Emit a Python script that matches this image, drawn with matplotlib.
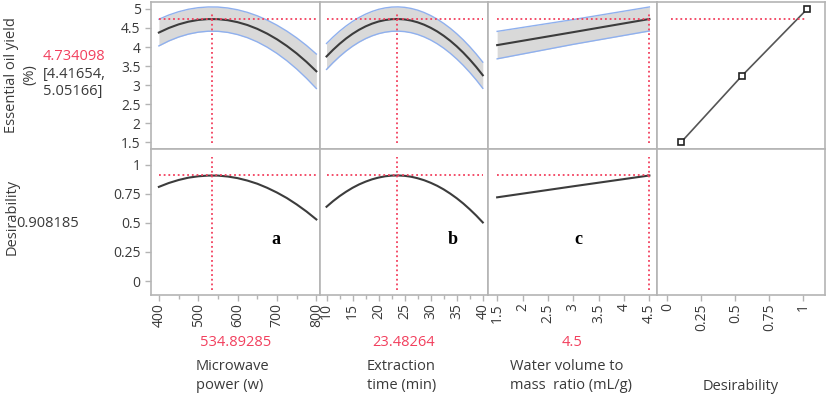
import matplotlib.pyplot as plt

plt.rcParams['font.family'] = ['Open Sans', 'DejaVu Sans']

power = [400, 425, 450, 475, 500, 525, 550, 575, 600, 625, 650, 675, 700, 725, 750, 775, 800]
yield_power = [4.379, 4.498, 4.593, 4.664, 4.710, 4.732, 4.730, 4.703, 4.651, 4.576, 4.476,
               4.351, 4.202, 4.029, 3.832, 3.610, 3.364]
upper_power = [4.729, 4.838, 4.925, 4.990, 5.031, 5.050, 5.048, 5.023, 4.976, 4.908, 4.818,
               4.706, 4.572, 4.417, 4.240, 4.040, 3.816]
lower_power = [4.029, 4.158, 4.261, 4.338, 4.389, 4.414, 4.412, 4.383, 4.326, 4.244, 4.134,
               3.996, 3.832, 3.641, 3.424, 3.180, 2.912]
desir_power = [0.810, 0.843, 0.869, 0.889, 0.901, 0.907, 0.907, 0.899, 0.885, 0.864, 0.837,
               0.802, 0.761, 0.714, 0.659, 0.598, 0.530]

time = [10, 11.25, 12.5, 13.75, 15, 16.25, 17.5, 18.75, 20, 21.25, 22.5, 23.75, 25, 26.25,
        27.5, 28.75, 30, 31.25, 32.5, 33.75, 35, 36.25, 37.5, 38.75, 40]
yield_time = [3.753, 3.926, 4.083, 4.223, 4.346, 4.452, 4.541, 4.613, 4.669, 4.707, 4.729,
              4.734, 4.722, 4.693, 4.647, 4.584, 4.504, 4.408, 4.294, 4.164, 4.017, 3.853,
              3.672, 3.475, 3.260]
upper_time = [4.093, 4.262, 4.415, 4.551, 4.671, 4.775, 4.862, 4.933, 4.988, 5.025, 5.047,
              5.052, 5.040, 5.011, 4.966, 4.904, 4.825, 4.731, 4.619, 4.492, 4.348, 4.187,
              4.009, 3.815, 3.603]
lower_time = [3.413, 3.590, 3.751, 3.895, 4.021, 4.129, 4.220, 4.293, 4.350, 4.389, 4.411,
              4.416, 4.404, 4.375, 4.328, 4.264, 4.183, 4.085, 3.969, 3.836, 3.686, 3.519,
              3.335, 3.135, 2.917]
desir_time = [0.639, 0.687, 0.730, 0.768, 0.802, 0.831, 0.855, 0.875, 0.890, 0.901, 0.907,
              0.908, 0.905, 0.897, 0.884, 0.867, 0.845, 0.819, 0.788, 0.752, 0.712, 0.667,
              0.617, 0.563, 0.504]

ratio = [1.5, 3.0, 4.5]
yield_ratio = [4.05, 4.39, 4.734]
upper_ratio = [4.41, 4.72, 5.05]
lower_ratio = [3.69, 4.07, 4.42]
desir_ratio = [0.72, 0.815, 0.908]

# desirability function for the response
dfun_d = [0.1, 0.55, 1.03]
dfun_y = [1.5, 3.25, 5.0]

opt_x = [534.89285, 23.48264, 4.5]
opt_x_txt = ['534.89285', '23.48264', '4.5']
opt_yield = 4.734098
opt_ci = [4.41654, 5.05166]
opt_d = 0.908185

factor_names = ['Microwave\npower (w)', 'Extraction\ntime (min)',
                'Water volume to\nmass  ratio (mL/g)']
panel_tags = ['a', 'b', 'c']

xlims = [(380, 808), (8.65, 41), (1.32, 4.64), (-0.08, 1.16)]
major = [[400, 500, 600, 700, 800], [10, 15, 20, 25, 30, 35, 40],
         [1.5, 2, 2.5, 3, 3.5, 4, 4.5], [0, 0.25, 0.5, 0.75, 1]]
major_lbl = [['400', '500', '600', '700', '800'], ['10', '15', '20', '25', '30', '35', '40'],
             ['1.5', '2', '2.5', '3', '3.5', '4', '4.5'], ['0', '0.25', '0.5', '0.75', '1']]
minor = [[450, 550, 650, 750], [12.5, 17.5, 22.5, 27.5, 32.5, 37.5], [], []]

RED = '#f2405e'
GRID = '#b4b4b4'
TXT = '#3a3a3a'
dots = (0, (1, 1.6))

fig = plt.figure(figsize=(8.27, 3.97), dpi=100)
axes = fig.subplots(2, 4, gridspec_kw=dict(left=151/827, right=825/827, top=1-2/397,
                                           bottom=1-295/397, wspace=0, hspace=0))

series = [(power, yield_power, upper_power, lower_power, desir_power),
          (time, yield_time, upper_time, lower_time, desir_time),
          (ratio, yield_ratio, upper_ratio, lower_ratio, desir_ratio)]

for j in range(4):
    top, bot = axes[0, j], axes[1, j]
    for ax in (top, bot):
        ax.set_xlim(xlims[j])
        for s in ax.spines.values():
            s.set_color(GRID)
            s.set_linewidth(1.2)
        ax.tick_params(colors=GRID, labelcolor=TXT, length=4, width=1, labelsize=10)
        ax.set_xticks(major[j])
        ax.set_xticks(minor[j], minor=True)
        ax.tick_params(which='minor', colors=GRID, length=3, width=1)
    top.set_ylim(1.34, 5.18)
    bot.set_ylim(-0.12, 1.14)
    top.set_xticklabels([])
    bot.set_xticklabels(major_lbl[j], rotation=90)
    bot.tick_params(axis='x', pad=2)
    if j == 0:
        top.set_yticks([1.5, 2, 2.5, 3, 3.5, 4, 4.5, 5])
        top.set_yticklabels(['1.5', '2', '2.5', '3', '3.5', '4', '4.5', '5'])
        bot.set_yticks([0, 0.25, 0.5, 0.75, 1])
        bot.set_yticklabels(['0', '0.25', '0.5', '0.75', '1'])
    else:
        top.set_yticks([])
        bot.set_yticks([])

    if j < 3:
        x, y, up, lo, d = series[j]
        top.fill_between(x, lo, up, color='#d9d9d9', lw=0)
        top.plot(x, up, color='#8fb0ee', lw=1)
        top.plot(x, lo, color='#8fb0ee', lw=1)
        top.plot(x, y, color='#3c3c3c', lw=1.5)
        top.plot([x[0], x[-1]], [opt_yield, opt_yield], color=RED, lw=1.3, ls=dots)
        top.axvline(opt_x[j], ymin=0.04, ymax=0.93, color=RED, lw=1.3, ls=dots)
        bot.plot(x, d, color='#3c3c3c', lw=1.5)
        bot.plot([x[0], x[-1]], [opt_d, opt_d], color=RED, lw=1.3, ls=dots)
        bot.axvline(opt_x[j], ymin=0.034, ymax=0.94, color=RED, lw=1.3, ls=dots)
        bot.text([0.74, 0.79, 0.535][j], 0.38, panel_tags[j], transform=bot.transAxes,
                 family='Liberation Serif', fontweight='bold', fontsize=13,
                 ha='center', va='center', color='black')
        pos = bot.get_position()
        fig.text((pos.x0 + pos.x1) / 2, 1 - 342/397, opt_x_txt[j], color=RED, fontsize=10.5,
                 ha='center', va='center')
        fig.text([196, 367, 510][j] / 827, 1 - 376/397, factor_names[j], color=TXT,
                 fontsize=10.5, ha='left', va='center', linespacing=1.45)
    else:
        top.plot(dfun_d, dfun_y, color='#555555', lw=1.2, marker='s', ms=5,
                 mfc='white', mec='#222222', mew=1.2)
        top.hlines(opt_yield, 0.03, 1.02, color=RED, lw=1.3, linestyles=[dots])
        fig.text(741/827, 1 - 387/397, 'Desirability', color=TXT, fontsize=10.5,
                 ha='center', va='center')

# response labels on the left
fig.text(21/827, 1 - 75/397, 'Essential oil yield\n(%)', rotation=90, color=TXT,
         fontsize=10.5, ha='center', va='center', linespacing=1.3)
fig.text(43/827, 1 - 57/397, '%.6f' % opt_yield, color=RED, fontsize=10.5, va='center')
fig.text(43/827, 1 - 83/397, '[%.5f,\n%.5f]' % (opt_ci[0], opt_ci[1]), color=TXT,
         fontsize=10.5, va='center', linespacing=1.25)
fig.text(12/827, 1 - 217/397, 'Desirability', rotation=90, color=TXT,
         fontsize=10.5, ha='center', va='center')
fig.text(16/827, 1 - 223/397, '%.6f' % opt_d, color=TXT, fontsize=10.5, va='center')

fig.savefig('out.png', dpi=100)
